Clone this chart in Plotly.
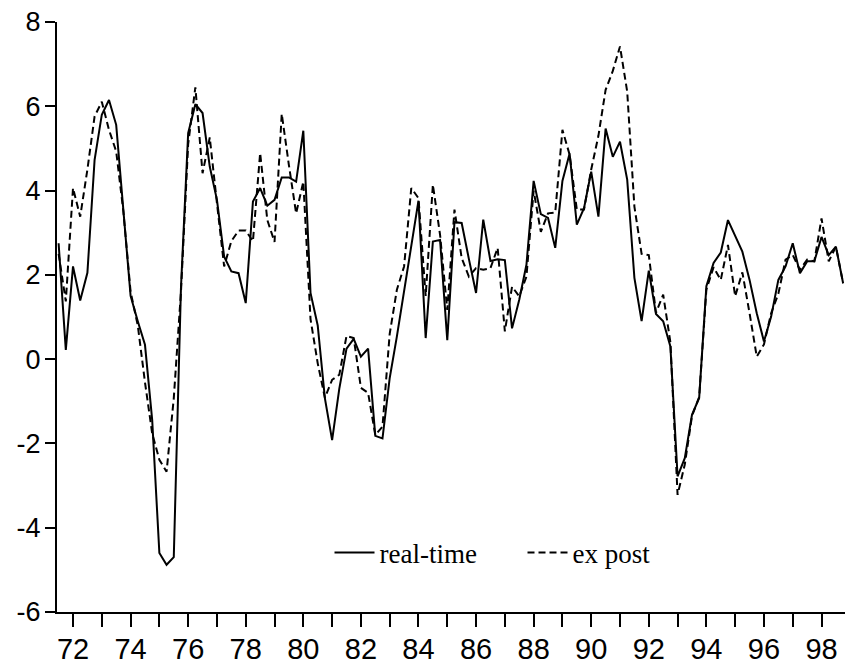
import pandas as pd
import plotly.graph_objects as go

# quarterly observations, 1971Q3 .. 1998Q4
quarters = pd.period_range("1971Q3", "1998Q4", freq="Q")

real_time = [
    2.75, 0.22, 2.20, 1.39, 2.05, 4.73, 5.80, 6.15, 5.56, 3.60,
    1.50, 0.90, 0.34, -1.44, -4.60, -4.88, -4.70, 1.70, 5.36, 6.05,
    5.84, 4.57, 3.78, 2.43, 2.08, 2.04, 1.33, 3.74, 4.06, 3.64,
    3.78, 4.31, 4.31, 4.21, 5.42, 1.57, 0.80, -0.93, -1.92, -0.70,
    0.25, 0.48, 0.06, 0.25, -1.82, -1.88, -0.45, 0.54, 1.60, 2.68,
    3.76, 0.50, 2.79, 2.83, 0.45, 3.25, 3.23, 2.38, 1.57, 3.31,
    2.33, 2.37, 2.35, 0.73, 1.41, 2.24, 4.23, 3.44, 3.35, 2.64,
    4.23, 4.88, 3.19, 3.58, 4.45, 3.38, 5.47, 4.80, 5.16, 4.26,
    1.93, 0.90, 2.10, 1.07, 0.90, 0.30, -2.78, -2.35, -1.32, -0.92,
    1.73, 2.28, 2.53, 3.30, 2.91, 2.55, 1.88, 1.09, 0.42, 1.01,
    1.88, 2.20, 2.75, 2.04, 2.32, 2.32, 2.90, 2.47, 2.67, 1.80,
]

ex_post = [
    2.50, 1.37, 4.06, 3.38, 4.50, 5.76, 6.11, 5.44, 4.93, 3.50,
    1.60, 0.80, -0.55, -1.76, -2.39, -2.67, -0.93, 1.60, 5.10, 6.45,
    4.41, 5.26, 3.70, 2.20, 2.80, 3.05, 3.05, 2.80, 4.89, 3.30,
    2.78, 5.82, 4.60, 3.46, 4.21, 0.95, -0.10, -0.92, -0.49, -0.37,
    0.55, 0.50, -0.68, -0.80, -1.80, -1.60, 0.60, 1.65, 2.20, 4.06,
    3.82, 1.50, 4.14, 2.95, 1.17, 3.55, 2.40, 1.96, 2.16, 2.12,
    2.16, 2.64, 0.66, 1.72, 1.49, 1.96, 4.00, 3.02, 3.46, 3.48,
    5.44, 4.85, 3.55, 3.55, 4.50, 5.30, 6.39, 6.84, 7.42, 6.35,
    3.62, 2.50, 2.47, 1.10, 1.53, 0.40, -3.22, -2.50, -1.35, -0.90,
    1.65, 2.18, 1.88, 2.71, 1.49, 2.06, 1.09, 0.06, 0.35, 1.09,
    1.55, 2.36, 2.47, 2.12, 2.36, 2.32, 3.34, 2.32, 2.67, 1.80,
]

x_years = list(range(1972, 1999))
x_labels = [str(y)[2:] if y % 2 == 0 else "" for y in x_years]
y_ticks = [-6, -4, -2, 0, 2, 4, 6, 8]
y_labels = [str(v) for v in y_ticks]  # plain hyphen, as in the original

t = [p.year + (p.quarter - 1) / 4 for p in quarters]

INK = "#000000"
SANS = "Liberation Sans, Arial, sans-serif"
SERIF = "Liberation Serif, Times New Roman, serif"

fig = go.Figure()
fig.add_trace(go.Scatter(
    x=t, y=real_time, mode="lines", name="real-time",
    line=dict(color=INK, width=2),
))
fig.add_trace(go.Scatter(
    x=t, y=ex_post, mode="lines", name="ex post",
    line=dict(color=INK, width=2, dash="7px,4px"),
))

# the page body has an 8px margin, so the figure is 8px smaller on each axis
fig.update_layout(
    width=845, height=658,
    paper_bgcolor="white", plot_bgcolor="white",
    margin=dict(l=49, r=7, t=14, b=54, autoexpand=False),
    showlegend=True,
    legend=dict(orientation="h", x=0.59, xanchor="center", y=0.10,
                yanchor="middle", bgcolor="rgba(0,0,0,0)",
                font=dict(family=SERIF, size=27, color=INK),
                itemwidth=40, entrywidth=138, entrywidthmode="pixels"),
    xaxis=dict(range=[1971.444, 1998.85], showgrid=False, zeroline=False,
               automargin=False, ticklabeloverflow="allow",
               showline=True, linecolor=INK, linewidth=2,
               tickmode="array", tickvals=x_years, ticktext=x_labels,
               ticks="outside", ticklen=13, tickwidth=2, tickcolor=INK,
               tickfont=dict(family=SANS, size=29, color=INK),
               ticklabelstandoff=-3),
    yaxis=dict(range=[-6, 8], showgrid=False, zeroline=False,
               automargin=False, ticklabeloverflow="allow",
               showline=True, linecolor=INK, linewidth=2,
               tickmode="array", tickvals=y_ticks, ticktext=y_labels,
               ticks="outside", ticklen=10, tickwidth=2, tickcolor=INK,
               tickfont=dict(family=SANS, size=27, color=INK),
               ticklabelstandoff=-1),
)

fig.write_html("out.html")
